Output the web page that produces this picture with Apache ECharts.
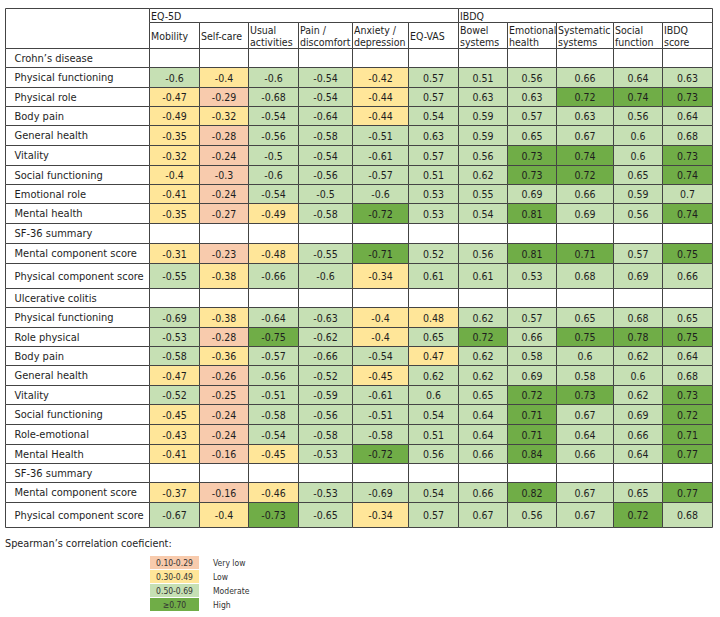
<!DOCTYPE html>
<html><head><meta charset="utf-8">
<script src="https://cdn.jsdelivr.net/npm/echarts@6/dist/echarts.min.js"></script>
<style>html,body{margin:0;padding:0;background:#fff}#c{width:720px;height:617px}</style>
</head><body><div id="c"></div>
<script>
// ---------- data ----------
const groupLabels = ['EQ-5D', 'IBDQ'];
const groupSizes = [6, 5];
const columnLabels = ['Mobility', 'Self-care', 'Usual\nactivities', 'Pain /\ndiscomfort', 'Anxiety /\ndepression', 'EQ-VAS',
  'Bowel\nsystems', 'Emotional\nhealth', 'Systematic\nsystems', 'Social\nfunction', 'IBDQ\nscore'];

const crohnsLabels = ['Physical functioning', 'Physical role', 'Body pain', 'General health', 'Vitality', 'Social functioning', 'Emotional role', 'Mental health'];
const crohnsValues = [
  [-0.6, -0.4, -0.6, -0.54, -0.42, 0.57, 0.51, 0.56, 0.66, 0.64, 0.63],
  [-0.47, -0.29, -0.68, -0.54, -0.44, 0.57, 0.63, 0.63, 0.72, 0.74, 0.73],
  [-0.49, -0.32, -0.54, -0.64, -0.44, 0.54, 0.59, 0.57, 0.63, 0.56, 0.64],
  [-0.35, -0.28, -0.56, -0.58, -0.51, 0.63, 0.59, 0.65, 0.67, 0.6, 0.68],
  [-0.32, -0.24, -0.5, -0.54, -0.61, 0.57, 0.56, 0.73, 0.74, 0.6, 0.73],
  [-0.4, -0.3, -0.6, -0.56, -0.57, 0.51, 0.62, 0.73, 0.72, 0.65, 0.74],
  [-0.41, -0.24, -0.54, -0.5, -0.6, 0.53, 0.55, 0.69, 0.66, 0.59, 0.7],
  [-0.35, -0.27, -0.49, -0.58, -0.72, 0.53, 0.54, 0.81, 0.69, 0.56, 0.74]
];
const crohnsSummaryLabels = ['Mental component score', 'Physical component score'];
const crohnsSummaryValues = [
  [-0.31, -0.23, -0.48, -0.55, -0.71, 0.52, 0.56, 0.81, 0.71, 0.57, 0.75],
  [-0.55, -0.38, -0.66, -0.6, -0.34, 0.61, 0.61, 0.53, 0.68, 0.69, 0.66]
];
const ucLabels = ['Physical functioning', 'Role physical', 'Body pain', 'General health', 'Vitality', 'Social functioning', 'Role-emotional', 'Mental Health'];
const ucValues = [
  [-0.69, -0.38, -0.64, -0.63, -0.4, 0.48, 0.62, 0.57, 0.65, 0.68, 0.65],
  [-0.53, -0.28, -0.75, -0.62, -0.4, 0.65, 0.72, 0.66, 0.75, 0.78, 0.75],
  [-0.58, -0.36, -0.57, -0.66, -0.54, 0.47, 0.62, 0.58, 0.6, 0.62, 0.64],
  [-0.47, -0.26, -0.56, -0.52, -0.45, 0.62, 0.62, 0.69, 0.58, 0.6, 0.68],
  [-0.52, -0.25, -0.51, -0.59, -0.61, 0.6, 0.65, 0.72, 0.73, 0.62, 0.73],
  [-0.45, -0.24, -0.58, -0.56, -0.51, 0.54, 0.64, 0.71, 0.67, 0.69, 0.72],
  [-0.43, -0.24, -0.54, -0.58, -0.58, 0.51, 0.64, 0.71, 0.64, 0.66, 0.71],
  [-0.41, -0.16, -0.45, -0.53, -0.72, 0.56, 0.66, 0.84, 0.66, 0.64, 0.77]
];
const ucSummaryLabels = ['Mental component score', 'Physical component score'];
const ucSummaryValues = [
  [-0.37, -0.16, -0.46, -0.53, -0.69, 0.54, 0.66, 0.82, 0.67, 0.65, 0.77],
  [-0.67, -0.4, -0.73, -0.65, -0.34, 0.57, 0.67, 0.56, 0.67, 0.72, 0.68]
];
const sectionLabels = ['Crohn\u2019s disease', 'Ulcerative colitis'];
const summaryLabel = 'SF-36 summary';
const legendTitle = 'Spearman\u2019s correlation coeficient:';
const legendRanges = ['0.10-0.29', '0.30-0.49', '0.50-0.69', '\u22650.70'];
const legendNames = ['Very low', 'Low', 'Moderate', 'High'];

// ---------- layout & style ----------
const colEdges = [5, 149, 199, 248, 298, 352, 408, 458, 507, 556, 613, 662, 712];
const rowEdges = [8, 22, 48, 67, 87, 106, 125, 145, 165, 184, 203, 223, 243, 263, 288,
  307, 327, 346, 365, 385, 404, 424, 444, 463, 482, 502, 527];
const levelColors = ['#F8CBAD', '#FFE699', '#C6E0B4', '#70AD47'];
const FONT = '"DejaVu Sans Condensed", "DejaVu Sans", sans-serif';
const LINE = '#444';
const TEXT = '#1e1e1e';

function levelOf(v) {
  const a = Math.abs(v);
  if (a <= 0.30) return 0;
  if (a < 0.50) return 1;
  if (a <= 0.70) return 2;
  return 3;
}

// build rows
const rowNames = [];
const rowVals = [];
function addBlock(sec, labels, vals, sLabels, sVals) {
  rowNames.push(sec); rowVals.push(null);
  labels.forEach((l, i) => { rowNames.push(l); rowVals.push(vals[i]); });
  rowNames.push(summaryLabel); rowVals.push(null);
  sLabels.forEach((l, i) => { rowNames.push(l); rowVals.push(sVals[i]); });
}
addBlock(sectionLabels[0], crohnsLabels, crohnsValues, crohnsSummaryLabels, crohnsSummaryValues);
addBlock(sectionLabels[1], ucLabels, ucValues, ucSummaryLabels, ucSummaryValues);

const HEAD = 2; // header rows
const cellData = [];
rowVals.forEach((vals, r) => {
  for (let c = 0; c < columnLabels.length; c++) {
    cellData.push([c, r, vals ? vals[c] : NaN]);
  }
});
const labelData = rowNames.map((n, r) => [r, n]);
const headerData = [];
headerData.push({ kind: 'corner' });
let start = 0;
groupLabels.forEach((g, i) => { headerData.push({ kind: 'group', c0: start, c1: start + groupSizes[i], text: g }); start += groupSizes[i]; });
columnLabels.forEach((t, c) => headerData.push({ kind: 'col', c0: c, c1: c + 1, text: t }));

function box(api, x0, x1, y0, y1) {
  const p0 = api.coord([x0, y0]);
  const p1 = api.coord([x1, y1]);
  return { x: Math.round(p0[0]) + 0.5, y: Math.round(p0[1]) + 0.5, width: Math.round(p1[0]) - Math.round(p0[0]), height: Math.round(p1[1]) - Math.round(p0[1]) };
}

const chart = echarts.init(document.getElementById('c'), null, { renderer: 'svg' });
chart.setOption({
  animation: false,
  backgroundColor: '#fff',
  grid: { left: 5, top: 8, width: 707, height: 519 },
  xAxis: { type: 'value', min: 5, max: 712, show: false },
  yAxis: { type: 'value', min: 8, max: 527, inverse: true, show: false },
  series: [
    {
      type: 'custom', name: 'cells', coordinateSystem: 'cartesian2d', clip: false,
      data: cellData,
      encode: { x: -1, y: -1 },
      renderItem: function (params, api) {
        const c = api.value(0), r = api.value(1), v = api.value(2);
        const b = box(api, colEdges[c + 1], colEdges[c + 2], rowEdges[r + HEAD], rowEdges[r + HEAD + 1]);
        const has = !isNaN(v);
        return {
          type: 'rect', shape: b,
          style: { fill: has ? levelColors[levelOf(v)] : '#fff', stroke: LINE, lineWidth: 1 },
          textContent: has ? { style: { text: String(v), fill: TEXT, font: '10.5px ' + FONT, align: 'center', verticalAlign: 'middle' } } : undefined,
          textConfig: has ? { position: 'inside' } : undefined
        };
      }
    },
    {
      type: 'custom', name: 'rowLabels', coordinateSystem: 'cartesian2d', clip: false,
      data: labelData,
      encode: { x: -1, y: -1 },
      renderItem: function (params, api) {
        const r = api.value(0);
        const b = box(api, colEdges[0], colEdges[1], rowEdges[r + HEAD], rowEdges[r + HEAD + 1]);
        return {
          type: 'group', children: [
            { type: 'rect', shape: b, style: { fill: '#fff', stroke: LINE, lineWidth: 1 } },
            { type: 'text', x: b.x + 9, y: b.y + b.height / 2, style: { text: labelData[params.dataIndex][1], fill: TEXT, font: '11px ' + FONT, align: 'left', verticalAlign: 'middle' } }
          ]
        };
      }
    },
    {
      type: 'custom', name: 'header', coordinateSystem: 'cartesian2d', clip: false,
      data: headerData.map((d, i) => [i]),
      encode: { x: -1, y: -1 },
      renderItem: function (params, api) {
        const d = headerData[params.dataIndex];
        let b;
        if (d.kind === 'corner') b = box(api, colEdges[0], colEdges[1], rowEdges[0], rowEdges[2]);
        else if (d.kind === 'group') b = box(api, colEdges[d.c0 + 1], colEdges[d.c1 + 1], rowEdges[0], rowEdges[1]);
        else b = box(api, colEdges[d.c0 + 1], colEdges[d.c1 + 1], rowEdges[1], rowEdges[2]);
        const children = [{ type: 'rect', shape: b, style: { fill: '#fff', stroke: LINE, lineWidth: 1 } }];
        if (d.text) children.push({ type: 'text', x: b.x + 1.5, y: b.y + b.height / 2 + 0.5, style: { text: d.text, fill: TEXT, font: '10.5px ' + FONT, lineHeight: 12, align: 'left', verticalAlign: 'middle' } });
        return { type: 'group', children: children };
      }
    }
  ],
  graphic: [
    { type: 'text', left: 5, top: 538, style: { text: legendTitle, fill: TEXT, font: '10.8px ' + FONT } }
  ].concat(legendRanges.map((t, i) => ({
    type: 'group', left: 150, top: 556 + i * 14, children: [
      { type: 'rect', shape: { x: 0, y: 0, width: 49, height: 13 }, style: { fill: levelColors[i] } },
      { type: 'text', x: 24.5, y: 7, style: { text: t, fill: '#333', font: '8.5px ' + FONT, align: 'center', verticalAlign: 'middle' } },
      { type: 'text', x: 63, y: 7, style: { text: legendNames[i], fill: '#333', font: '8.5px ' + FONT, align: 'left', verticalAlign: 'middle' } }
    ]
  })))
});
</script></body></html>
